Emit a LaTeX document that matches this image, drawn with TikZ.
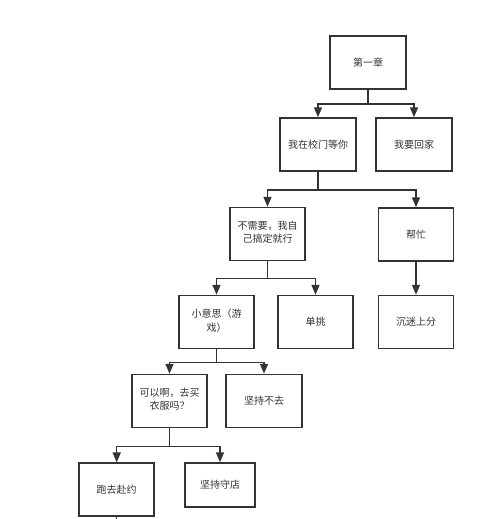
\documentclass[tikz,border=0pt]{standalone}
\usepackage{fontspec}
\newfontfamily\cjk{Noto Sans CJK SC}
\usetikzlibrary{arrows.meta}
\definecolor{ink}{HTML}{333333}
\tikzset{
  box/.style={draw=ink, line width=1.5pt, minimum width=76pt, minimum height=53pt,
    inner sep=2pt, align=center, text=ink, font=\cjk\fontsize{10}{13}\selectfont},
  conn/.style={draw=ink, line width=1.5pt, -{Triangle[width=8pt,length=10pt]}},
  plain/.style={draw=ink, line width=1.5pt}
}
\begin{document}
\begin{tikzpicture}[x=1pt,y=-1pt]
\useasboundingbox[fill=white] (0,0) rectangle (500,519);
\node[box] (b1) at (368,62.5) {第一章};
\node[box] (b2) at (318,144.5) {我在校门等你};
\node[box] (b3) at (414,144.5) {我要回家};
\node[box, minimum width=75pt] (b4) at (267.5,234) {\raisebox{4pt}{\shortstack{不需要，我自\\[1pt]己搞定就行}}};
\node[box, minimum width=75pt] (b5) at (416,234.5) {帮忙};
\node[box, minimum width=75pt] (b6) at (216.5,322) {\raisebox{4pt}{\shortstack{小意思（游\\[1pt]戏）}}};
\node[box, minimum width=75pt] (b7) at (315.5,322) {单挑};
\node[box, minimum width=75pt] (b8) at (416,322) {沉迷上分};
\node[box, minimum width=75pt] (b9) at (169.5,401) {\raisebox{4pt}{\shortstack{可以啊，去买\\[1pt]衣服吗？}}};
\node[box] (b10) at (264,401) {坚持不去};
\node[box, minimum width=75pt] (b11) at (116.7,489.7) {跑去赴约};
\node[box, minimum width=70pt, minimum height=44pt] (b12) at (220,485) {坚持守店};
\coordinate (tail) at (116.7,530);
\draw[conn] (b1.south) -- ++(0,14) -| (b2.north);
\draw[conn] (b1.south) -- ++(0,14) -| (b3.north);
\draw[conn] (b2.south) -- ++(0,18) -| (b4.north);
\draw[conn] (b2.south) -- ++(0,18) -| (b5.north);
\draw[conn] (b4.south) -- ++(0,17) -| (b6.north);
\draw[conn] (b4.south) -- ++(0,17) -| (b7.north);
\draw[conn] (b5.south) -- (b8.north);
\draw[conn] (b6.south) -- ++(0,13) -| (b9.north);
\draw[conn] (b6.south) -- ++(0,13) -| (b10.north);
\draw[conn] (b9.south) -- ++(0,18) -| (b11.north);
\draw[conn] (b9.south) -- ++(0,18) -| (b12.north);
\draw[plain] (b11.south) -- (tail);
\end{tikzpicture}
\end{document}
